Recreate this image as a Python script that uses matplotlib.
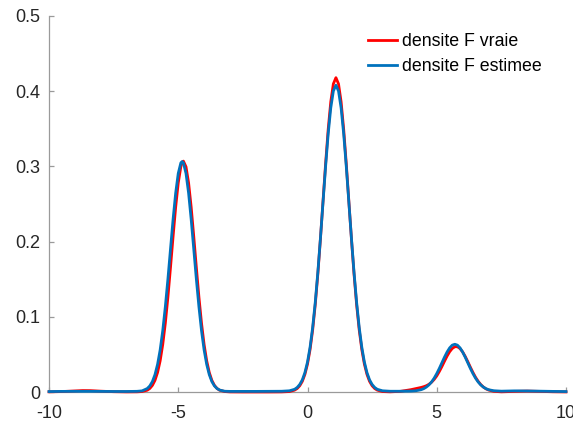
import matplotlib
matplotlib.use("Agg")
import matplotlib.pyplot as plt

x_vals = [-10, -9.5, -9.0, -8.7, -8.4, -8.0, -7.5, -7.0, -6.6, -6.4,
          -6.2, -6.1, -6.0, -5.9, -5.8, -5.7, -5.6, -5.5, -5.4, -5.3,
          -5.2, -5.1, -5.0, -4.9, -4.85, -4.8, -4.7, -4.6, -4.5, -4.4,
          -4.3, -4.2, -4.1, -4.0, -3.9, -3.8, -3.7, -3.6, -3.5, -3.4,
          -3.2, -3.0, -2.5, -2.0, -1.5, -1.0, -0.7, -0.5, -0.4, -0.3,
          -0.2, -0.1, 0.0, 0.1, 0.2, 0.3, 0.4, 0.5, 0.6, 0.7,
          0.8, 0.9, 1.0, 1.1, 1.2, 1.3, 1.4, 1.5, 1.6, 1.7,
          1.8, 1.9, 2.0, 2.1, 2.2, 2.3, 2.4, 2.5, 2.6, 2.7,
          2.9, 3.2, 3.6, 4.0, 4.2, 4.4, 4.5, 4.6, 4.7, 4.8,
          4.9, 5.0, 5.1, 5.2, 5.3, 5.4, 5.5, 5.6, 5.7, 5.8,
          5.9, 6.0, 6.1, 6.2, 6.3, 6.4, 6.5, 6.6, 6.7, 6.8,
          6.9, 7.0, 7.2, 7.5, 8.0, 8.5, 9.0, 9.5, 10]

densite_vraie = [0.0002, 0.0006, 0.0014, 0.0019, 0.0018, 0.0011, 0.0004, 0.0001, 0.0002, 0.0006,
                 0.0024, 0.0047, 0.0088, 0.0155, 0.0260, 0.0415, 0.0632, 0.0915, 0.1262, 0.1656,
                 0.2068, 0.2458, 0.2781, 0.2995, 0.3051, 0.3070, 0.2995, 0.2781, 0.2458, 0.2068,
                 0.1656, 0.1262, 0.0915, 0.0632, 0.0415, 0.0260, 0.0155, 0.0088, 0.0047, 0.0024,
                 0.0006, 0.0001, 0.0000, 0.0000, 0.0000, 0.0001, 0.0006, 0.0025, 0.0046, 0.0083,
                 0.0142, 0.0235, 0.0372, 0.0566, 0.0827, 0.1162, 0.1569, 0.2035, 0.2535, 0.3035,
                 0.3492, 0.3859, 0.4097, 0.4180, 0.4097, 0.3859, 0.3492, 0.3035, 0.2535, 0.2035,
                 0.1569, 0.1162, 0.0827, 0.0566, 0.0372, 0.0235, 0.0142, 0.0083, 0.0046, 0.0025,
                 0.0006, 0.0002, 0.0009, 0.0031, 0.0046, 0.0061, 0.0071, 0.0084, 0.0103, 0.0130,
                 0.0167, 0.0214, 0.0273, 0.0339, 0.0410, 0.0478, 0.0536, 0.0579, 0.0602, 0.0602,
                 0.0578, 0.0534, 0.0474, 0.0404, 0.0330, 0.0260, 0.0196, 0.0143, 0.0100, 0.0067,
                 0.0043, 0.0027, 0.0009, 0.0002, 0.0008, 0.0012, 0.0008, 0.0003, 0.0001]

densite_estimee = [0.0006, 0.0008, 0.0009, 0.0009, 0.0009, 0.0008, 0.0007, 0.0007, 0.0009, 0.0015,
                   0.0046, 0.0081, 0.0139, 0.0231, 0.0368, 0.0560, 0.0815, 0.1133, 0.1502, 0.1901,
                   0.2296, 0.2645, 0.2907, 0.3047, 0.3065, 0.3047, 0.2907, 0.2645, 0.2296, 0.1901,
                   0.1502, 0.1133, 0.0815, 0.0560, 0.0368, 0.0231, 0.0139, 0.0081, 0.0046, 0.0026,
                   0.0010, 0.0008, 0.0008, 0.0008, 0.0009, 0.0010, 0.0016, 0.0036, 0.0060, 0.0100,
                   0.0162, 0.0258, 0.0399, 0.0597, 0.0860, 0.1192, 0.1591, 0.2042, 0.2523, 0.3000,
                   0.3432, 0.3778, 0.4002, 0.4080, 0.4002, 0.3778, 0.3432, 0.3000, 0.2523, 0.2042,
                   0.1591, 0.1192, 0.0860, 0.0597, 0.0399, 0.0258, 0.0162, 0.0100, 0.0060, 0.0036,
                   0.0016, 0.0010, 0.0010, 0.0012, 0.0017, 0.0031, 0.0045, 0.0066, 0.0095, 0.0134,
                   0.0184, 0.0245, 0.0314, 0.0389, 0.0464, 0.0532, 0.0587, 0.0623, 0.0635, 0.0623,
                   0.0587, 0.0532, 0.0464, 0.0389, 0.0314, 0.0245, 0.0184, 0.0134, 0.0095, 0.0066,
                   0.0045, 0.0031, 0.0017, 0.0011, 0.0015, 0.0014, 0.0011, 0.0008, 0.0006]

series_labels = ["densite F vraie", "densite F estimee"]
x_ticks = [-10, -5, 0, 5, 10]
x_tick_labels = ["-10", "-5", "0", "5", "10"]
y_ticks = [0, 0.1, 0.2, 0.3, 0.4, 0.5]
y_tick_labels = ["0", "0.1", "0.2", "0.3", "0.4", "0.5"]

plt.rcParams['font.family'] = ['Liberation Sans', 'DejaVu Sans']

W, H = 573, 423
fig = plt.figure(figsize=(W / 100, H / 100), dpi=100)
L, R, T, B = 49, 566, 16, 392
ax = fig.add_axes([L / W, 1 - B / H, (R - L) / W, (B - T) / H])

ax.plot(x_vals, densite_vraie, color='#ff0000', lw=2.0, label=series_labels[0],
        clip_on=False, solid_joinstyle='round', zorder=3)
ax.plot(x_vals, densite_estimee, color='#0072bd', lw=2.0, label=series_labels[1],
        clip_on=False, solid_joinstyle='round', zorder=4)

ax.set_xlim(-10, 10)
ax.set_ylim(0, 0.5)
ax.set_xticks(x_ticks)
ax.set_xticklabels(x_tick_labels)
ax.set_yticks(y_ticks)
ax.set_yticklabels(y_tick_labels)

for s in ['top', 'right']:
    ax.spines[s].set_visible(False)
for s in ['left', 'bottom']:
    ax.spines[s].set_color('#9a9a9a')
    ax.spines[s].set_linewidth(0.9)

ax.tick_params(direction='in', length=3.6, width=0.9, color='#9a9a9a',
               labelcolor='#262626', labelsize=13)
ax.tick_params(axis='y', pad=6)
ax.tick_params(axis='x', pad=9)

leg = ax.legend(loc='upper left', bbox_to_anchor=(368 / W, 1 - 33 / H),
                bbox_transform=fig.transFigure, frameon=False, fontsize=12.8,
                handlelength=1.63, handletextpad=0.3, borderpad=0, borderaxespad=0,
                labelspacing=0.45)

fig.savefig("out.png", dpi=100)
